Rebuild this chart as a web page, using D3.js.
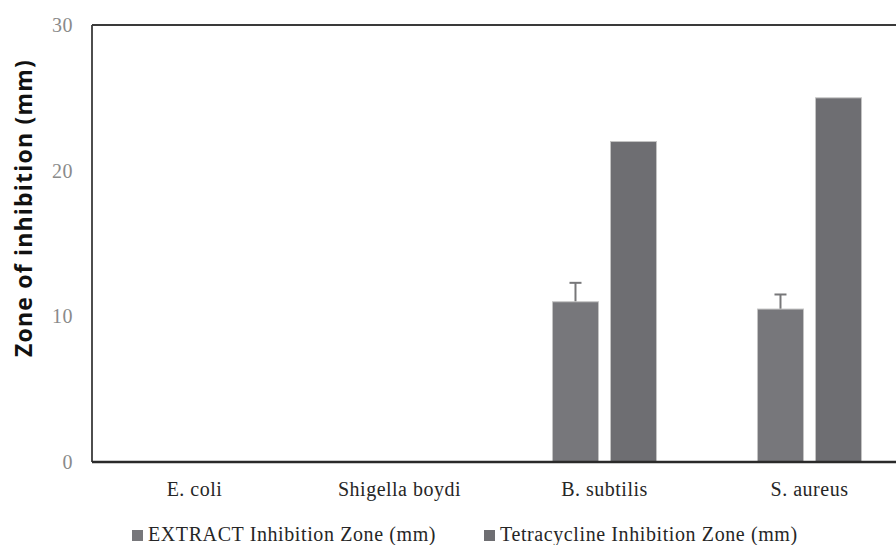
<!DOCTYPE html>
<html>
<head>
<meta charset="utf-8">
<script src="https://cdn.jsdelivr.net/npm/d3@7"></script>
<style>
  html, body { margin: 0; padding: 0; background: #fff; }
  svg { display: block; }
</style>
</head>
<body>
<svg id="chart" width="896" height="545"></svg>
<script>
// Organisms tested
const categories = ["E. coli", "Shigella boydi", "B. subtilis", "S. aureus"];
// Series names
const seriesNames = ["EXTRACT Inhibition Zone (mm)", "Tetracycline Inhibition Zone (mm)"];
// Mean inhibition zones (mm); null = no zone
const extractValues = [null, null, 11, 10.5];
const extractErrors = [null, null, 1.3, 1.0];
const tetracyclineValues = [null, null, 22, 25];
const yTicks = [0, 10, 20, 30];
const yTitle = "Zone of inhibition (mm)";

const colors = ["#77777b", "#6e6e72"];

const svg = d3.select("#chart");
const margin = { left: 92, top: 25, bottom: 462, right: 912 };

const x0 = d3.scaleBand().domain(categories).range([margin.left, margin.right]).paddingInner(0).paddingOuter(0);
const x1 = d3.scaleBand().domain([0, 1]).range([0, x0.bandwidth()]).paddingInner(0.207).paddingOuter(0.87);
const y = d3.scaleLinear().domain([0, 30]).range([margin.bottom, margin.top]);

// Plot frame: top and left edges
svg.append("line").attr("x1", margin.left).attr("x2", 896).attr("y1", margin.top).attr("y2", margin.top)
  .attr("stroke", "#3a3a3a").attr("stroke-width", 1.8);
svg.append("line").attr("x1", margin.left).attr("x2", margin.left).attr("y1", margin.top).attr("y2", margin.bottom)
  .attr("stroke", "#3a3a3a").attr("stroke-width", 1.8);

// Y axis tick labels
const yAxis = d3.axisLeft(y).tickValues(yTicks).tickSize(0).tickPadding(19).tickFormat(d3.format("d"));
const gy = svg.append("g").attr("transform", `translate(${margin.left},0)`).call(yAxis);
gy.select(".domain").remove();
gy.selectAll("text").attr("font-family", "'Liberation Serif', serif").attr("font-size", 20)
  .attr("letter-spacing", 0.5).attr("fill", "#8a8a8a");

// Bars
const data = [];
categories.forEach((c, i) => {
  if (extractValues[i] != null) data.push({ c, s: 0, v: extractValues[i], e: extractErrors[i] });
  if (tetracyclineValues[i] != null) data.push({ c, s: 1, v: tetracyclineValues[i], e: null });
});

// Error bars (drawn under bars so the stem starts at the bar top)
const eb = data.filter(d => d.e != null);
svg.selectAll(".err").data(eb).join("line")
  .attr("x1", d => x0(d.c) + x1(d.s) + x1.bandwidth() / 2)
  .attr("x2", d => x0(d.c) + x1(d.s) + x1.bandwidth() / 2)
  .attr("y1", d => y(d.v)).attr("y2", d => y(d.v + d.e))
  .attr("stroke", "#777779").attr("stroke-width", 2);
svg.selectAll(".cap").data(eb).join("line")
  .attr("x1", d => x0(d.c) + x1(d.s) + x1.bandwidth() / 2 - 6)
  .attr("x2", d => x0(d.c) + x1(d.s) + x1.bandwidth() / 2 + 6)
  .attr("y1", d => y(d.v + d.e)).attr("y2", d => y(d.v + d.e))
  .attr("stroke", "#777779").attr("stroke-width", 2);

svg.selectAll(".bar").data(data).join("rect")
  .attr("x", d => x0(d.c) + x1(d.s))
  .attr("width", x1.bandwidth())
  .attr("y", d => y(d.v))
  .attr("height", d => y(0) - y(d.v))
  .attr("fill", d => colors[d.s])
  .attr("stroke", "#c4c4c4").attr("stroke-width", 1);

// Bottom axis line and category labels
svg.append("line").attr("x1", margin.left).attr("x2", 896).attr("y1", margin.bottom).attr("y2", margin.bottom)
  .attr("stroke", "#2a2a2a").attr("stroke-width", 2.4);
const xAxis = d3.axisBottom(x0).tickSize(0).tickPadding(20);
const gx = svg.append("g").attr("transform", `translate(0,${margin.bottom})`).call(xAxis);
gx.select(".domain").remove();
gx.selectAll("text").attr("font-family", "'Liberation Serif', serif").attr("font-size", 20)
  .attr("letter-spacing", 0.5).attr("fill", "#262626");

// Y axis title
svg.append("text")
  .attr("transform", "translate(32,208) rotate(-90)")
  .attr("text-anchor", "middle")
  .attr("font-family", "'Open Sans', sans-serif").attr("font-weight", "bold").attr("font-size", 23)
  .attr("letter-spacing", 1.2)
  .attr("fill", "#111")
  .text(yTitle);

// Legend
const legendX = [132, 484];
const lg = svg.selectAll(".legend").data(seriesNames).join("g")
  .attr("transform", (d, i) => `translate(${legendX[i]},530)`);
lg.append("rect").attr("width", 11).attr("height", 11).attr("fill", (d, i) => colors[i]);
lg.append("text").attr("x", 16).attr("y", 11)
  .attr("font-family", "'Liberation Serif', serif").attr("font-size", 20).attr("letter-spacing", 0.6)
  .attr("fill", "#262626")
  .text(d => d);
</script>
</body>
</html>
